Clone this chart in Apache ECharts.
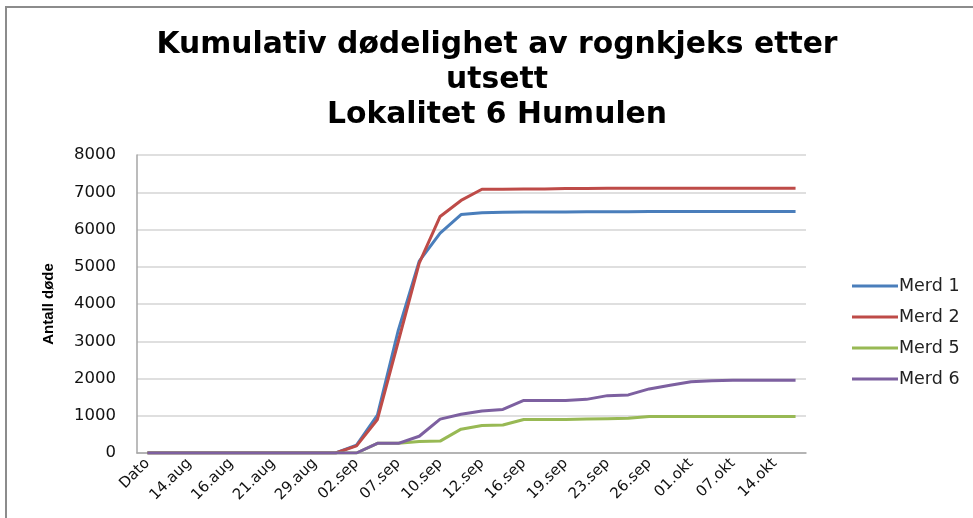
<!DOCTYPE html>
<html>
<head>
<meta charset="utf-8">
<script src="https://cdn.jsdelivr.net/npm/echarts@6/dist/echarts.min.js"></script>
<style>
  html, body { margin: 0; padding: 0; background: #fff; }
  #chart { width: 973px; height: 518px; }
</style>
</head>
<body>
<div id="chart"></div>
<script>
    // kategorier (annenhver vises på aksen)
    var dates = ['Dato', '13.aug', '14.aug', '15.aug', '16.aug', '19.aug', '21.aug', '26.aug',
        '29.aug', '31.aug', '02.sep', '05.sep', '07.sep', '09.sep', '10.sep', '11.sep',
        '12.sep', '14.sep', '16.sep', '18.sep', '19.sep', '21.sep', '23.sep', '24.sep',
        '26.sep', '29.sep', '01.okt', '04.okt', '07.okt', '10.okt', '14.okt', '17.okt'];

    var merd1 = [0, 0, 0, 0, 0, 0, 0, 0, 0, 0, 210, 1020, 3300, 5150, 5900, 6400,
        6450, 6460, 6470, 6470, 6470, 6475, 6475, 6475, 6480, 6480, 6480, 6480, 6480, 6480, 6480, 6480];
    var merd2 = [0, 0, 0, 0, 0, 0, 0, 0, 0, 0, 190, 900, 3000, 5100, 6350, 6780,
        7080, 7080, 7090, 7090, 7100, 7100, 7110, 7110, 7110, 7110, 7110, 7110, 7110, 7110, 7110, 7110];
    var merd5 = [0, 0, 0, 0, 0, 0, 0, 0, 0, 0, 0, 260, 260, 310, 320, 640,
        740, 750, 900, 900, 900, 910, 920, 930, 980, 980, 980, 980, 980, 980, 980, 980];
    var merd6 = [0, 0, 0, 0, 0, 0, 0, 0, 0, 0, 0, 260, 260, 450, 910, 1040,
        1130, 1170, 1410, 1410, 1410, 1440, 1540, 1560, 1720, 1820, 1910, 1940, 1950, 1950, 1950, 1950];

    var names = ['Merd 1', 'Merd 2', 'Merd 5', 'Merd 6'];
    var colors = ['#4a7ebb', '#be4b48', '#98b954', '#7d60a0'];
    var titleText = 'Kumulativ dødelighet av rognkjeks etter\nutsett\nLokalitet 6 Humulen';

    var mkLine = function (name, data, color) {
        return {
            name: name,
            type: 'line',
            data: data,
            symbol: 'none',
            color: color,
            lineStyle: { width: 3, color: color }
        };
    };

    var myChart = echarts.init(document.getElementById('chart'));
    var option = {
        backgroundColor: '#fff',
        animation: false,
        graphic: [{
            type: 'rect',
            shape: { x: 6, y: 7, width: 1100, height: 700 },
            style: { fill: 'none', stroke: '#8c8c8c', lineWidth: 2 },
            silent: true
        }, {
            // tittel, sentrert litt til høyre for midten som i originalen
            type: 'text',
            x: 497,
            y: 28,
            style: {
                text: titleText,
                textAlign: 'center',
                textVerticalAlign: 'top',
                fontFamily: 'DejaVu Sans',
                fontWeight: 'bold',
                fontSize: 29.8,
                lineHeight: 35,
                fill: '#000'
            },
            silent: true
        }],
        legend: {
            orient: 'vertical',
            left: 847,
            top: 272,
            itemWidth: 46,
            itemHeight: 3,
            itemGap: 13,
            icon: 'rect',
            data: names,
            textStyle: { fontFamily: 'DejaVu Sans', fontSize: 17.5, color: '#222', padding: [0, 0, 0, -4] }
        },
        grid: { left: 137, right: 167, top: 155, bottom: 65 },
        xAxis: {
            type: 'category',
            data: dates,
            boundaryGap: true,
            axisTick: { show: false },
            axisLine: { lineStyle: { color: '#a6a6a6', width: 1.5 } },
            axisLabel: {
                interval: 1,
                rotate: 45,
                margin: 8,
                fontFamily: 'DejaVu Sans',
                fontSize: 15,
                color: '#111'
            }
        },
        yAxis: {
            type: 'value',
            min: 0,
            max: 8000,
            interval: 1000,
            name: 'Antall døde',
            nameLocation: 'middle',
            nameRotate: 90,
            nameGap: 81,
            nameTextStyle: {
                fontFamily: 'Liberation Sans',
                fontWeight: 'bold',
                fontSize: 15,
                color: '#000'
            },
            axisLine: { show: true, lineStyle: { color: '#a6a6a6', width: 1.5 } },
            axisTick: { show: false },
            splitLine: { lineStyle: { color: '#d4d4d4', width: 1.5 } },
            axisLabel: {
                margin: 21,
                formatter: function (v) { return String(v); },
                fontFamily: 'DejaVu Sans',
                fontSize: 16.5,
                color: '#111'
            }
        },
        series: [
            mkLine(names[0], merd1, colors[0]),
            mkLine(names[1], merd2, colors[1]),
            mkLine(names[2], merd5, colors[2]),
            mkLine(names[3], merd6, colors[3])
        ]
    };
    myChart.setOption(option);
</script>
</body>
</html>
